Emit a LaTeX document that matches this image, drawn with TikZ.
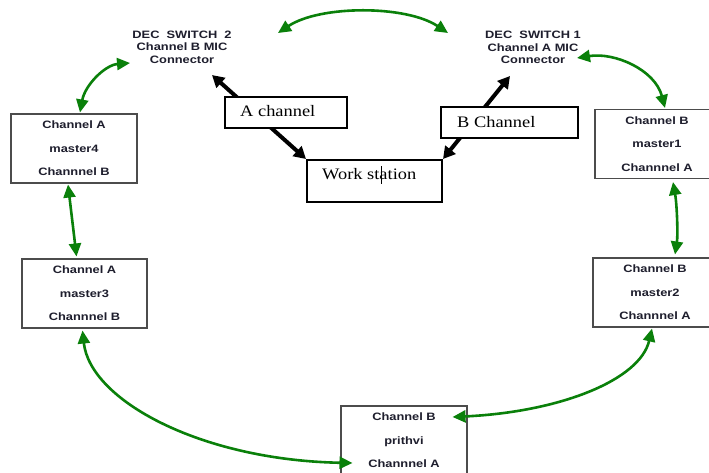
\documentclass[tikz,border=0pt]{standalone}
\usepackage{fontspec}
\setmainfont{Liberation Serif}
\newfontfamily\labfont[FakeStretch=1.2]{Liberation Sans}
\newfontfamily\serfont[FakeStretch=1.15]{Liberation Serif}
\usetikzlibrary{arrows.meta}
\definecolor{gr}{RGB}{10,128,10}
\definecolor{txt}{RGB}{30,30,45}
\tikzset{
  mbox/.style={draw=black!70, line width=1.1pt, fill=white, minimum width=#1, minimum height=69pt, inner sep=0pt, align=center, text=txt, font=\labfont\bfseries\fontsize{10.7}{23.5}\selectfont},
  sbox/.style={draw=black, line width=2pt, fill=white, inner sep=0pt},
  stext/.style={anchor=west, inner sep=0pt, font=\serfont\fontsize{16}{18}\selectfont},
  dec/.style={align=center, inner sep=0pt, text=txt, font=\labfont\bfseries\fontsize{10.7}{12.5}\selectfont},
  garrow/.style={draw=gr, line width=2.6pt, {Triangle[length=13pt,width=12pt]}-{Triangle[length=13pt,width=12pt]}},
  barrow/.style={draw=black, line width=4pt, {Triangle[length=12pt,width=13pt]}-{Triangle[length=12pt,width=13pt]}}
}
\begin{document}
\begin{tikzpicture}[x=1pt,y=-1pt]
\useasboundingbox (0,0) rectangle (709,472);
\clip (0,0) rectangle (709,472);
\fill[white] (0,0) rectangle (709,472);

% DEC labels
\node[dec] (dec2) at (182,47) {DEC\ \ SWITCH\ \ 2\\Channel B MIC\\Connector};
\node[dec] (dec1) at (533,47.5) {DEC\ \ SWITCH 1\\Channel A MIC\\Connector};
\coordinate (d2tip) at (212,75);
\coordinate (d1tip) at (510,76);
\coordinate (d2top) at (278,33);
\coordinate (d1top) at (448,33);
\coordinate (d2left) at (130,63);
\coordinate (d1right) at (577,58);

% work station
\node[sbox, minimum width=135pt, minimum height=42pt] (ws) at (374.5,181) {};
\node[stext] (wst) at (322,174) {Work station};
\draw[line width=0.6pt] (381,166) -- (381,184);

% black arrows (behind channel boxes)
\draw[barrow] (d2tip) -- (ws.north west);
\draw[barrow] (d1tip) -- (ws.north east);

% channel boxes
\node[sbox, minimum width=122pt, minimum height=31pt] (ach) at (286,112.5) {};
\node[stext] (acht) at (240,111.5) {A channel};
\node[sbox, minimum width=137pt, minimum height=31pt] (bch) at (509.5,122.5) {};
\node[stext] (bcht) at (457,122.5) {B Channel};

% master boxes
\node[mbox=126pt] (m4) at (74,148.5) {Channel A\\master4\\Channnel B};
\node[mbox=125pt] (m3) at (84.5,293.5) {Channel A\\master3\\Channnel B};
\node[mbox=124pt] (m1) at (657,144) {Channel B\\master1\\Channnel A};
\node[mbox=124pt] (m2) at (655,292.5) {Channel B\\master2\\Channnel A};
\node[mbox=126pt] (pr) at (404,440.5) {Channel B\\prithvi\\Channnel A};

% green arrows
\draw[garrow] (d2top) .. controls (320,5) and (406,5) .. (d1top);
\draw[garrow] (d2left) .. controls (105,65) and (85,85) .. ([xshift=6pt,yshift=1pt]m4.north);
\draw[garrow] (d1right) .. controls (615,52) and (655,70) .. ([xshift=8pt,yshift=1pt]m1.north);
\draw[garrow] ([xshift=-6pt,yshift=-1pt]m4.south) .. controls (71,210) and (74,235) .. ([xshift=-8pt,yshift=2pt]m3.north);
\draw[garrow] ([xshift=16pt,yshift=-3pt]m1.south) .. controls (677,205) and (678,235) .. ([xshift=20pt,yshift=3pt]m2.north);
\draw[garrow] ([xshift=-2pt,yshift=-2pt]m3.south) .. controls (90,400) and (200,460) .. ([xshift=12pt,yshift=-22.5pt]pr.west);
\draw[garrow] ([xshift=-3pt,yshift=-1pt]m2.south) .. controls (640,380) and (560,412) .. ([xshift=-15pt,yshift=23.5pt]pr.east);
\end{tikzpicture}
\end{document}
